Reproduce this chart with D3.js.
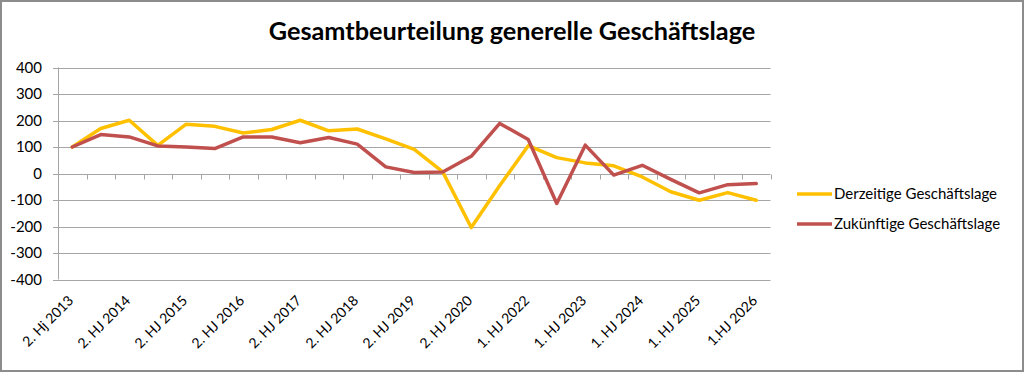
<!DOCTYPE html>
<html><head><meta charset="utf-8">
<script src="https://cdn.jsdelivr.net/npm/d3@7"></script>
<style>html,body{margin:0;padding:0;background:#fff;}svg{display:block;}</style>
</head><body>
<script>
const title = "Gesamtbeurteilung generelle Geschäftslage";
const categories = ["2. Hj 2013","1. HJ 2014","2. HJ 2014","1. HJ 2015","2. HJ 2015","1. HJ 2016","2. HJ 2016","1. HJ 2017","2. HJ 2017","1. HJ 2018","2. HJ 2018","1. HJ 2019","2. HJ 2019","1. HJ 2020","2. HJ 2020","1. HJ 2021","1. HJ 2022","2. HJ 2022","1. HJ 2023","2. HJ 2023","1. HJ 2024","2. HJ 2024","1. HJ 2025","2. HJ 2025","1.HJ 2026"];
const shownLabels = ["2. Hj 2013","2. HJ 2014","2. HJ 2015","2. HJ 2016","2. HJ 2017","2. HJ 2018","2. HJ 2019","2. HJ 2020","1. HJ 2022","1. HJ 2023","1. HJ 2024","1. HJ 2025","1.HJ 2026"];
const derzeitig = [100,170,201,106,186,178,153,166,201,161,168,131,91,6,-204,-45,105,60,40,29,-13,-69,-101,-72,-101];
const zukuenftig = [100,147,138,104,100,94,138,138,116,136,111,25,4,6,65,189,128,-113,107,-6,31,-22,-73,-42,-38];
const yTicks = [-400,-300,-200,-100,0,100,200,300,400];
const seriesNames = ["Derzeitige Geschäftslage","Zukünftige Geschäftslage"];
const seriesColors = ["#FFC000","#C0504D"];

const W = 1024, H = 372;
const font = "Lato, 'Open Sans', sans-serif";
const svg = d3.select("body").append("svg").attr("width", W).attr("height", H);
svg.append("rect").attr("x",1).attr("y",1).attr("width",W-2).attr("height",H-2)
  .attr("fill","#fff").attr("stroke","#8c8c8c").attr("stroke-width",2);

const plot = {left:58, right:770.5, top:67.5, bottom:279.5};
const x = d3.scaleBand().domain(categories).range([plot.left, plot.right]).padding(0);
const y = d3.scaleLinear().domain([-400,400]).range([plot.bottom, plot.top]);

// gridlines
svg.append("g").selectAll("line").data(yTicks).join("line")
  .attr("x1", plot.left-5).attr("x2", plot.right)
  .attr("y1", d=>Math.round(y(d))+0.5).attr("y2", d=>Math.round(y(d))+0.5)
  .attr("stroke","#a6a6a6").attr("stroke-width",1);

// y axis line
svg.append("line").attr("x1",plot.left+0.5).attr("x2",plot.left+0.5)
  .attr("y1",plot.top).attr("y2",plot.bottom).attr("stroke","#a6a6a6");

// y labels
svg.append("g").selectAll("text").data(yTicks).join("text")
  .attr("x", 42).attr("y", d=>y(d)).attr("dy","0.35em")
  .attr("text-anchor","end").attr("font-family",font).attr("font-size",15)
  .attr("fill","#000").text(d=>d);

// category ticks on zero line
const y0 = Math.round(y(0))+0.5;
const bounds = categories.map(c=>x(c)).concat([plot.right]);
svg.append("g").selectAll("line").data(bounds).join("line")
  .attr("x1", d=>Math.round(d)+0.5).attr("x2", d=>Math.round(d)+0.5)
  .attr("y1", y0).attr("y2", y0+5).attr("stroke","#a6a6a6");

// x labels (every second category)
const labelCats = categories.filter((c,i)=>i%2===0);
svg.append("g").selectAll("text").data(labelCats).join("text")
  .attr("transform", (d,i)=>`translate(${x(d)+x.bandwidth()/2+2},${plot.bottom+22}) rotate(-45)`)
  .attr("text-anchor","end").attr("font-family",font).attr("font-size",14)
  .attr("fill","#000").text((d,i)=>shownLabels[i]);

// lines
const line = d3.line().x((d,i)=>x(categories[i])+x.bandwidth()/2).y(d=>y(d));
[derzeitig, zukuenftig].forEach((s,k)=>{
  svg.append("path").datum(s).attr("d", line).attr("fill","none")
    .attr("stroke", seriesColors[k]).attr("stroke-width",3.5)
    .attr("stroke-linejoin","round").attr("stroke-linecap","round");
});

// legend
const lg = svg.append("g");
seriesNames.forEach((n,k)=>{
  const ly = 194 + k*30;
  lg.append("line").attr("x1",797).attr("x2",832).attr("y1",ly).attr("y2",ly)
    .attr("stroke",seriesColors[k]).attr("stroke-width",3.5);
  lg.append("text").attr("x",834).attr("y",ly).attr("dy","0.35em")
    .attr("font-family",font).attr("font-size",15).attr("fill","#000").text(n);
});

// title
const t = svg.append("text").attr("x",512).attr("y",40).attr("text-anchor","middle")
  .attr("font-family",font).attr("font-weight","bold").attr("font-size",24)
  .attr("fill","#000").text(title);
const tw = t.node().getComputedTextLength();
t.attr("font-size", 24*487/tw);
</script>
</body></html>
